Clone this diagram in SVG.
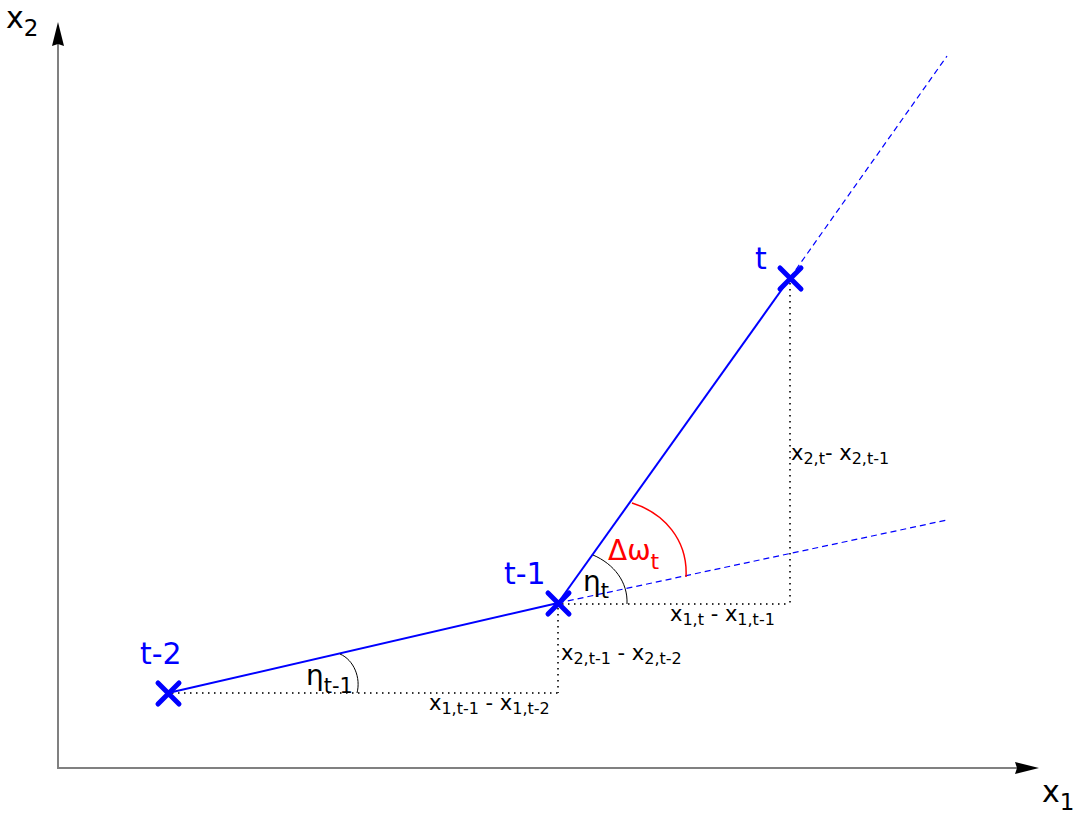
<svg xmlns="http://www.w3.org/2000/svg" width="1075" height="813" viewBox="0 0 1075 813">
<style>
.axis{stroke:#808080;stroke-width:2;fill:none}
.traj{stroke:#0000ff;stroke-width:2;fill:none}
.ext{stroke:#0000ff;stroke-width:1.2;fill:none;stroke-dasharray:6 4}
.dot{stroke:#333;stroke-width:2;fill:none;stroke-dasharray:1.5 4.5}
.arc{stroke:#000;stroke-width:1;fill:none}
.cross{stroke:#0000ff;stroke-width:5;stroke-linecap:round}
.lbl{font-family:"DejaVu Sans",Verdana,sans-serif;font-size:21px;fill:#000}
.sub{font-size:16px}
.pt{font-family:"DejaVu Sans",Verdana,sans-serif;font-size:30px;fill:#0000ff}
.ax{font-family:"DejaVu Sans",Verdana,sans-serif;font-size:30px;fill:#000}
.gk{font-family:"DejaVu Sans",Verdana,sans-serif;font-size:28px}
</style>
<rect width="1075" height="813" fill="#fff"/>
<g id="connectors">
<line class="axis" x1="58" y1="768" x2="58" y2="44"/>
<line class="axis" x1="57" y1="768" x2="1017" y2="768"/>
<path d="M58,22 L64,46 L58,44 L52,46 Z" fill="#000"/>
<path d="M1039,768 L1015,774 L1017,768 L1015,762 Z" fill="#000"/>
<line class="dot" x1="172" y1="693" x2="558" y2="693"/>
<line class="dot" x1="558" y1="608" x2="558" y2="693"/>
<line class="dot" x1="562" y1="604" x2="790" y2="604"/>
<line class="dot" x1="790" y1="283" x2="790" y2="604"/>
<line class="traj" x1="168" y1="693" x2="558" y2="603"/>
<line class="traj" x1="558" y1="603" x2="790" y2="278"/>
<line class="ext" x1="558" y1="603" x2="947" y2="520"/>
<line class="ext" x1="790" y1="278" x2="947" y2="56"/>
<path class="arc" d="M340,654 C354,660 361,678 357,693"/>
<path class="arc" d="M593,555 C614,564 628,582 627,604"/>
<path d="M632,503 C664,513 688,540 686,577" fill="none" stroke="#ff0000" stroke-width="1.5"/>
</g>
<g id="node-t2">
<path class="cross" d="M158,683 L179,704 M179,683 L158,704"/>
<text class="pt" x="140" y="664">t-2</text>
</g>
<g id="node-t1">
<path class="cross" d="M548,593 L569,614 M569,593 L548,614"/>
<text class="pt" x="504" y="584">t-1</text>
</g>
<g id="node-t">
<path class="cross" d="M780,268 L801,289 M801,268 L780,289"/>
<text class="pt" x="755" y="269">t</text>
</g>
<g id="axis-labels">
<text class="ax" x="6" y="28">x<tspan font-size="23" dy="8">2</tspan></text>
<text class="ax" x="1042" y="802">x<tspan font-size="23" dy="8">1</tspan></text>
</g>
<g id="angle-labels">
<text class="gk" x="306" y="685">η<tspan font-size="21" dy="8">t-1</tspan></text>
<text class="gk" x="583" y="591">η<tspan font-size="21" dy="7">t</tspan></text>
<text class="gk" x="608" y="560" font-size="30" fill="#ff0000">Δω<tspan font-size="22" dy="9">t</tspan></text>
</g>
<g id="diff-labels">
<text class="lbl" x="429" y="710">x<tspan class="sub" dy="4">1,t-1</tspan><tspan dy="-4"> - x</tspan><tspan class="sub" dy="4">1,t-2</tspan></text>
<text class="lbl" x="561" y="660">x<tspan class="sub" dy="4">2,t-1</tspan><tspan dy="-4"> - x</tspan><tspan class="sub" dy="4">2,t-2</tspan></text>
<text class="lbl" x="791" y="460">x<tspan class="sub" dy="4">2,t</tspan><tspan dy="-4">- x</tspan><tspan class="sub" dy="4">2,t-1</tspan></text>
<text class="lbl" x="670" y="621">x<tspan class="sub" dy="4">1,t</tspan><tspan dy="-4"> - x</tspan><tspan class="sub" dy="4">1,t-1</tspan></text>
</g>
</svg>
